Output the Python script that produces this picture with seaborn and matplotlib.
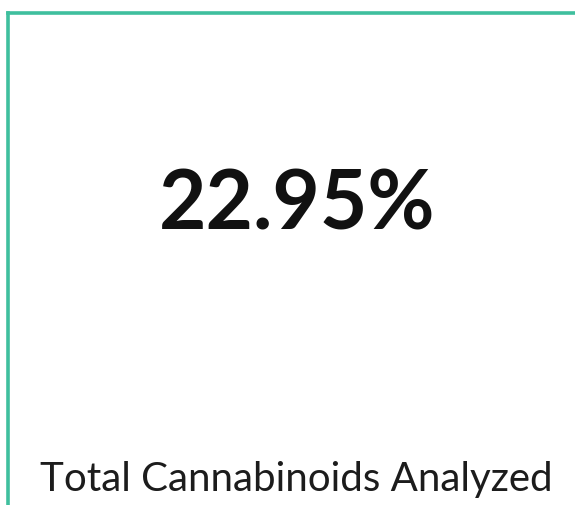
import matplotlib
matplotlib.use("Agg")
import matplotlib.pyplot as plt
import seaborn as sns

# card data
metric_value = [22.95]
metric_label = ["Total Cannabinoids Analyzed"]
border_color = "#3fbf9e"

sns.set_style("white")
plt.rcParams['font.family'] = ['Lato', 'DejaVu Sans']

W, H = 575, 505
fig = plt.figure(figsize=(W / 100, H / 100), dpi=100)
fig.patch.set_facecolor("white")

# card spans past the right and bottom edges of the image
ax = fig.add_axes([8 / W, -0.05, 576 / W, 1.05 - 13 / H])
ax.set_xticks([])
ax.set_yticks([])
sns.despine(ax=ax, right=True, bottom=True, left=False, top=False)
for side in ("left", "top"):
    ax.spines[side].set_color(border_color)
    ax.spines[side].set_linewidth(2.6)

fig.text(297 / W, 1 - 206 / H, f"{metric_value[0]:.2f}%", ha="center", va="center",
         fontsize=59, fontweight="bold", color="#111111")
fig.text(296 / W, 1 - 479 / H, metric_label[0], ha="center", va="center",
         fontsize=29, color="#1c1c1c")

fig.savefig("out.png", dpi=100, facecolor="white")
